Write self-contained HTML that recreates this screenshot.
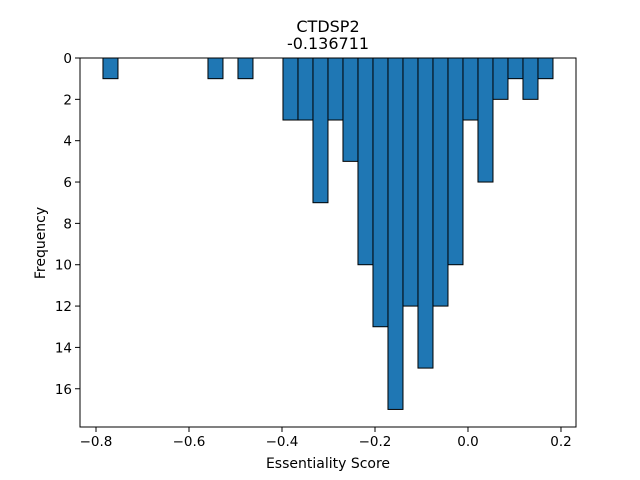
<!DOCTYPE html>
<html><head><meta charset="utf-8"><style>
html,body{margin:0;padding:0;background:#fff;}
svg{display:block;font-family:"DejaVu Sans","Liberation Sans",sans-serif;}
</style></head><body>
<svg id="chart" width="640" height="480" viewBox="0 0 640 480">
<rect width="640" height="480" fill="#fff"/>
<text x="328" y="32" text-anchor="middle" font-size="16">CTDSP2</text>
<text x="328" y="49" text-anchor="middle" font-size="16">-0.136711</text>
<g id="bars"></g>
<g id="axes"></g>
<text x="328" y="468" text-anchor="middle" font-size="14">Essentiality Score</text>
<text transform="translate(45,243) rotate(-90)" text-anchor="middle" font-size="14">Frequency</text>
</svg>
<script>
const binStart = -0.785;
const binWidth = 0.03226;
const counts = [1,0,0,0,0,0,0,1,0,1,0,0,3,3,7,3,5,10,13,17,12,15,12,10,3,6,2,1,2,1];
const xTicks = [-0.8,-0.6,-0.4,-0.2,0.0,0.2];
const xTickLabels = ["\u22120.8","\u22120.6","\u22120.4","\u22120.2","0.0","0.2"];
const yTicks = [0,2,4,6,8,10,12,14,16];

const L=80,R=576,T=58,B=427;
const xMin=-0.8344,xMax=0.2323,yMax=17.85;
const sx=v=>L+(v-xMin)/(xMax-xMin)*(R-L);
const sy=v=>T+v/yMax*(B-T);
const NS="http://www.w3.org/2000/svg";
function mk(tag,attrs,parent){const e=document.createElementNS(NS,tag);for(const k in attrs)e.setAttribute(k,attrs[k]);parent.appendChild(e);return e;}
const bars=document.getElementById('bars');
counts.forEach((c,i)=>{
  if(c<=0)return;
  const x0=sx(binStart+i*binWidth),x1=sx(binStart+(i+1)*binWidth);
  const r=mk('rect',{x:x0,y:sy(0),width:x1-x0,height:sy(c)-sy(0),fill:'#1f77b4',stroke:'#000','stroke-width':1},bars);
  
  
});
const ax=document.getElementById('axes');
const frame=mk('rect',{x:L,y:T,width:R-L,height:B-T,fill:'none',stroke:'#000','stroke-width':1},ax);


xTicks.forEach((v,i)=>{
  const x=sx(v);
  mk('line',{x1:x,x2:x,y1:B,y2:B+5,stroke:'#000'},ax);
  const t=mk('text',{x:x,y:B+19,'text-anchor':'middle','font-size':13.5},ax);
  t.textContent=xTickLabels[i];
  
  
});
yTicks.forEach(v=>{
  const y=sy(v);
  mk('line',{x1:L-5,x2:L,y1:y,y2:y,stroke:'#000'},ax);
  const t=mk('text',{x:L-8,y:y+5,'text-anchor':'end','font-size':13.5},ax);
  t.textContent=String(v);
  
  
});
</script>
</body></html>
